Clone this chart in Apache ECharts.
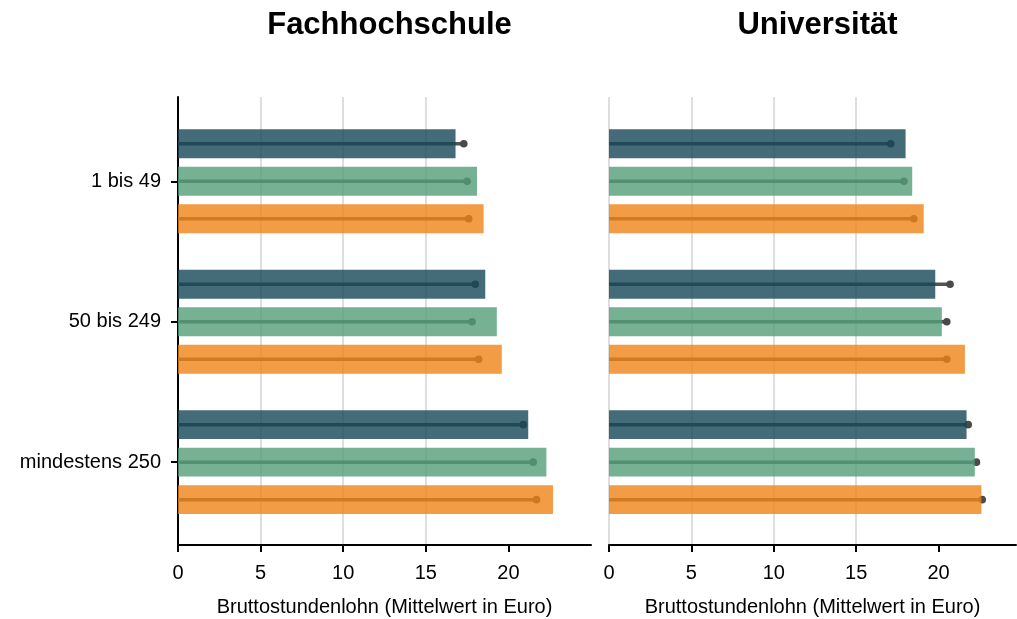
<!DOCTYPE html>
<html>
<head>
<meta charset="utf-8">
<script src="https://cdn.jsdelivr.net/npm/echarts@6/dist/echarts.min.js"></script>
<style>
html,body{margin:0;padding:0;background:#fff;}
#chart{width:1017px;height:619px;}
</style>
</head>
<body>
<div id="chart"></div>
<script>
// ---- data ----
const categories = ['1 bis 49', '50 bis 249', 'mindestens 250'];
const panelTitles = ['Fachhochschule', 'Universität'];
const axisTitle = 'Bruttostundenlohn (Mittelwert in Euro)';
const xTickValues = [0, 5, 10, 15, 20];
const seriesNames = ['Gruppe 1', 'Gruppe 2', 'Gruppe 3'];

// bars (per series, per category)
const fhBarDark   = [16.8, 18.6, 21.2];
const fhBarGreen  = [18.1, 19.3, 22.3];
const fhBarOrange = [18.5, 19.6, 22.7];
const uniBarDark   = [18.0, 19.8, 21.7];
const uniBarGreen  = [18.4, 20.2, 22.2];
const uniBarOrange = [19.1, 21.6, 22.6];

// dots (lollipop end points)
const fhDotDark   = [17.3, 18.0, 20.9];
const fhDotGreen  = [17.5, 17.8, 21.5];
const fhDotOrange = [17.6, 18.2, 21.7];
const uniDotDark   = [17.1, 20.7, 21.8];
const uniDotGreen  = [17.9, 20.5, 22.3];
const uniDotOrange = [18.5, 20.5, 22.65];

// ---- styles / layout ----
const barColors = ['#144756', '#549E79', '#EF8317'];
const barOpacity = 0.8;
const offsets = [-0.267, 0, 0.267];   // in category units
const barThickness = 0.206;           // in category units
const lineColor = '#555555';
const dotColor = '#4a4a4a';
const FONT = 'Liberation Sans, Arial, sans-serif';

const panels = [
  { bars: [fhBarDark, fhBarGreen, fhBarOrange], dots: [fhDotDark, fhDotGreen, fhDotOrange], max: 25 },
  { bars: [uniBarDark, uniBarGreen, uniBarOrange], dots: [uniDotDark, uniDotGreen, uniDotOrange], max: 24.7 }
];

const grids = [
  { left: 178, top: 97, width: 413, height: 448, outerBoundsMode: 'none', containLabel: false },
  { left: 609, top: 97, width: 407, height: 448, outerBoundsMode: 'none', containLabel: false }
];

function toPairs(vals) { return vals.map((v, i) => [v, i]); }

function barRenderer(s) {
  return function (params, api) {
    const v = api.value(0), c = api.value(1) + offsets[s];
    const p0 = api.coord([0, c]);
    const p1 = api.coord([v, c]);
    const h = Math.abs(api.size([0, barThickness])[1]);
    return {
      type: 'rect',
      shape: { x: p0[0], y: p0[1] - h / 2, width: p1[0] - p0[0], height: h },
      style: { fill: barColors[s], opacity: barOpacity }
    };
  };
}
function dotRenderer(s) {
  return function (params, api) {
    const v = api.value(0), c = api.value(1) + offsets[s];
    const p0 = api.coord([0, c]);
    const p1 = api.coord([v, c]);
    return {
      type: 'group',
      children: [
        { type: 'line', shape: { x1: p0[0], y1: p0[1], x2: p1[0], y2: p1[1] }, style: { stroke: lineColor, lineWidth: 3.5 } },
        { type: 'circle', shape: { cx: p1[0], cy: p1[1], r: 3.8 }, style: { fill: dotColor } }
      ]
    };
  };
}

const xAxes = panels.map((p, i) => ({
  type: 'value', gridIndex: i, min: 0, max: p.max,
  name: axisTitle, nameLocation: 'middle', nameGap: 52,
  nameTextStyle: { fontFamily: FONT, fontSize: 20, color: '#000' },
  axisLine: { show: true, onZero: false, lineStyle: { color: '#000', width: 2 } },
  axisTick: { show: true, customValues: xTickValues, length: 7, lineStyle: { color: '#000', width: 2 } },
  axisLabel: { customValues: xTickValues, fontFamily: FONT, fontSize: 20, color: '#000', margin: 18 },
  splitLine: { show: true, showMinLine: true, showMaxLine: false, lineStyle: { color: '#d6d6d6', width: 1.6 } }
}));

const yAxes = panels.map((p, i) => ({
  type: 'value', gridIndex: i, min: -0.6, max: 2.59, inverse: true,
  axisLine: { show: i === 0, onZero: false, lineStyle: { color: '#000', width: 2 } },
  axisTick: { show: i === 0, customValues: [0, 1, 2], length: 7, lineStyle: { color: '#000', width: 2 } },
  axisLabel: {
    show: i === 0, customValues: [0, 1, 2], margin: 17,
    fontFamily: FONT, fontSize: 20, color: '#000',
    formatter: v => categories[Math.round(v)] || ''
  },
  splitLine: { show: false }
}));

const series = [];
panels.forEach((p, i) => {
  for (let s = 0; s < 3; s++) {
    series.push({
      type: 'custom', name: seriesNames[s] + ' Mittelwert', xAxisIndex: i, yAxisIndex: i, z: 2, clip: false,
      renderItem: dotRenderer(s), encode: { x: 0, y: 1 }, data: toPairs(p.dots[s])
    });
  }
  for (let s = 0; s < 3; s++) {
    series.push({
      type: 'custom', name: seriesNames[s], xAxisIndex: i, yAxisIndex: i, z: 3, clip: false,
      renderItem: barRenderer(s), encode: { x: 0, y: 1 }, data: toPairs(p.bars[s])
    });
  }
});

const option = {
  animation: false,
  backgroundColor: '#fff',
  title: panelTitles.map((t, i) => ({
    text: t,
    left: grids[i].left + grids[i].width / 2,
    textAlign: 'center',
    top: 5,
    textStyle: { fontFamily: FONT, fontSize: 31, fontWeight: 'bold', color: '#000' }
  })),
  grid: grids,
  xAxis: xAxes,
  yAxis: yAxes,
  series: series
};

const chart = echarts.init(document.getElementById('chart'), null, { renderer: 'canvas' });
chart.setOption(option);
</script>
</body>
</html>
